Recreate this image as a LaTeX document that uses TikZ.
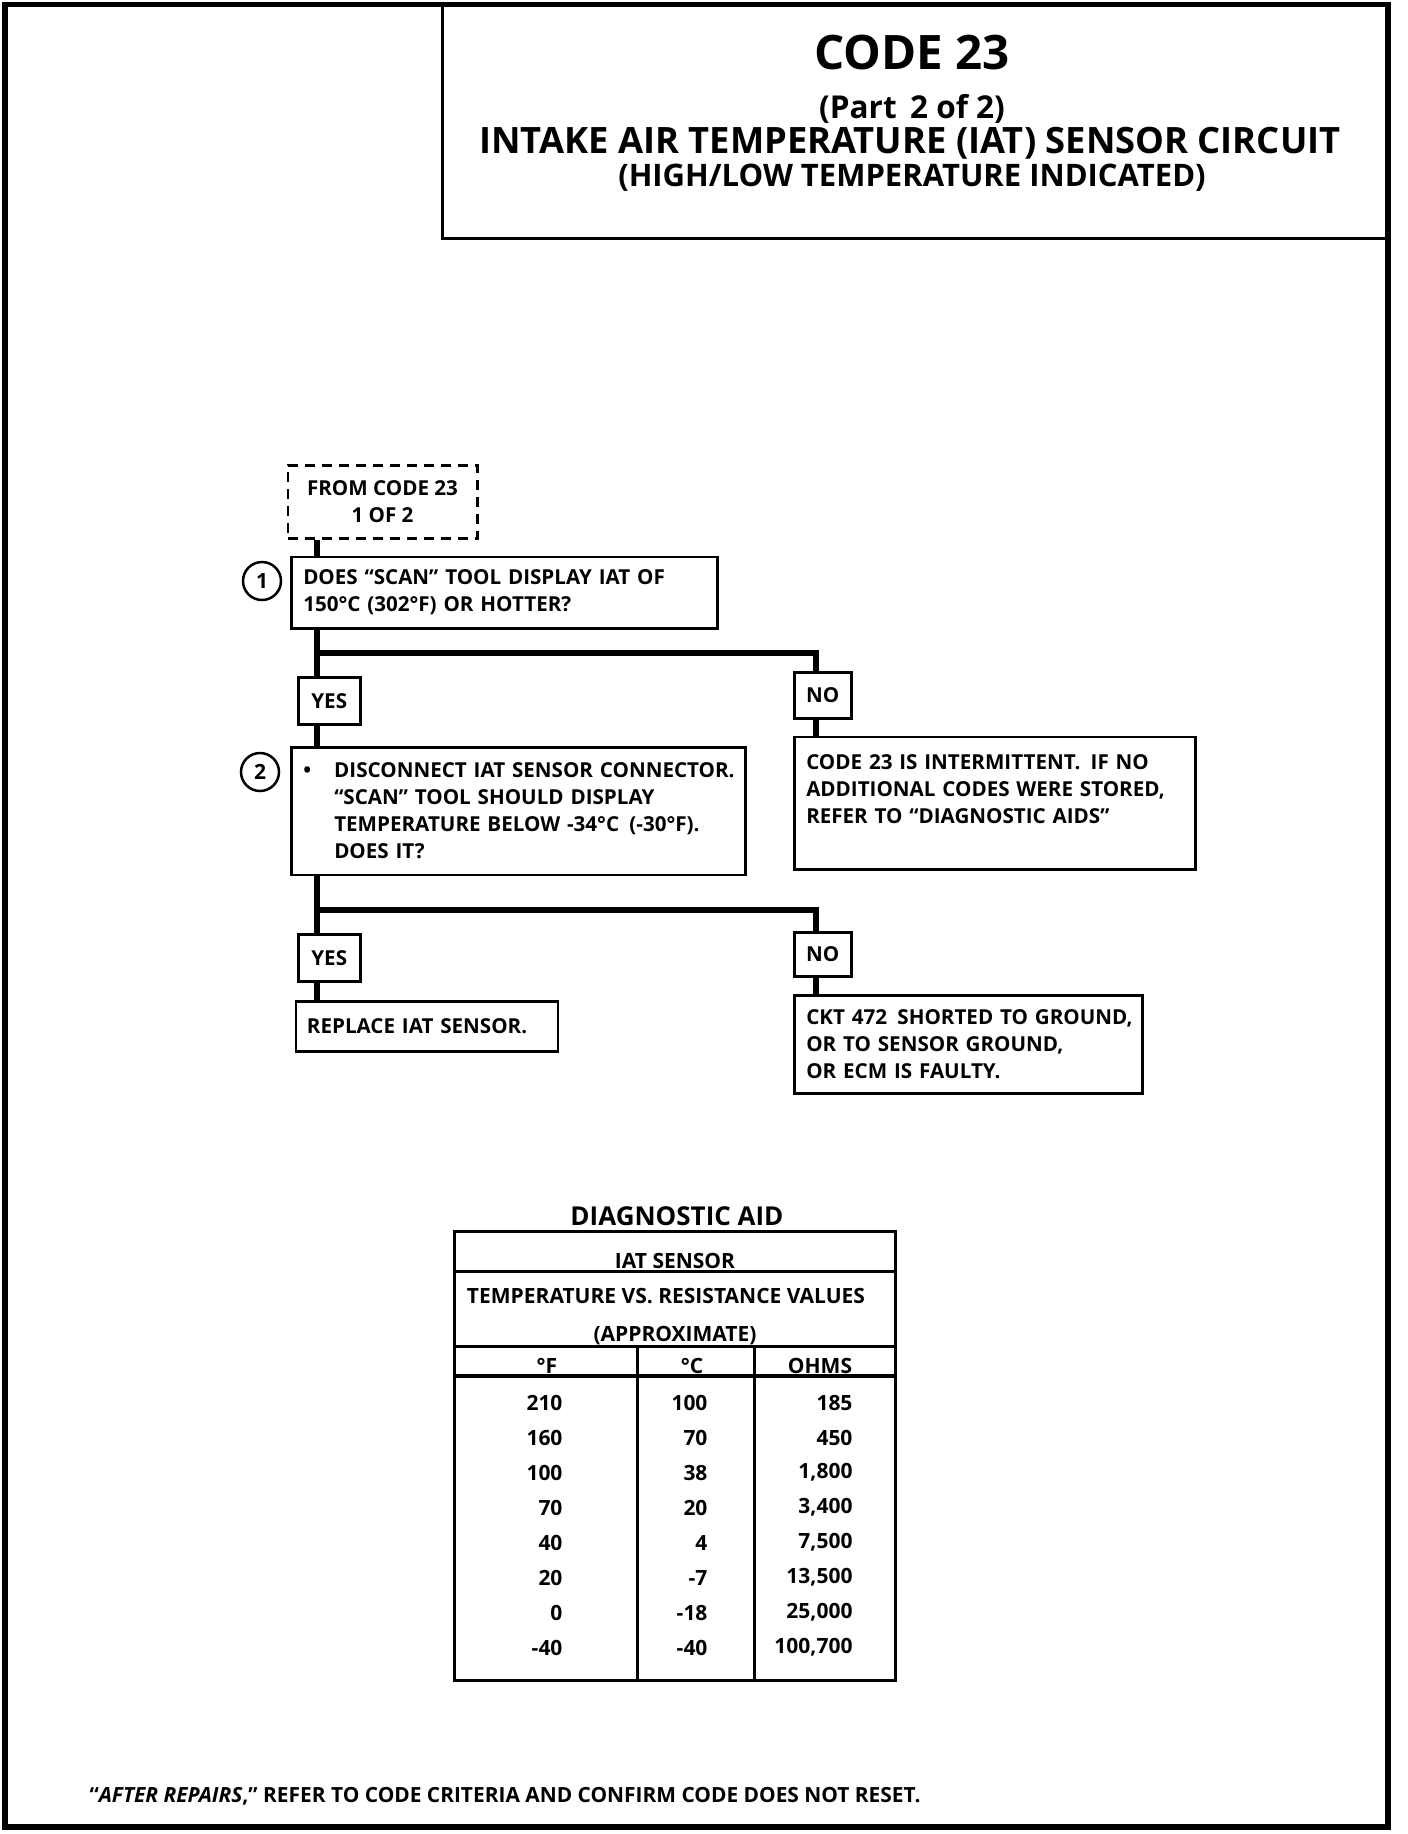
\documentclass[tikz,border=0pt]{standalone}
\usepackage{fontspec}
\setmainfont{Open Sans}
\usepackage{tikz}
\usetikzlibrary{positioning}

\newcommand{\fsz}[2]{\fontsize{#1}{#2}\selectfont}

\begin{document}
\begin{tikzpicture}[x=1pt,y=-1pt,
    box/.style={draw,line width=2.5pt,anchor=north west,inner xsep=12pt,
                align=left,font=\bfseries\fsz{20.6}{27}},
    tag/.style={draw,line width=2.5pt,anchor=north west,inner sep=0pt,
                font=\bfseries\fsz{20.6}{27}},
    dashbox/.style={draw,line width=2.5pt,dash pattern=on 10pt off 7pt,
                anchor=north west,align=center,font=\bfseries\fsz{20.6}{27}},
    num/.style={draw,circle,line width=2.5pt,minimum size=38pt,inner sep=0pt,
                font=\bfseries\fsz{21}{24}},
    flow/.style={line width=6pt,line join=miter},
    head/.style={font=\bfseries\fsz{21}{24},anchor=base},
    cell/.style={font=\bfseries\fsz{21}{24},anchor=east}]
\useasboundingbox (0,0) rectangle (1408,1834);

% frame and title
\draw[line width=5.5pt] (5,4.5) rectangle (1388,1827);
\draw[line width=3pt] (442,4.5) rectangle (1388,238.5);
\node[font=\bfseries\fsz{47.5}{52}] (title) at (912,53) {CODE 23};
\node[font=\bfseries\fsz{31.5}{34}] (part) at (912,109) {(Part\, 2 of 2)};
\node[font=\bfseries\fsz{36.3}{40}] (circuit) at (910,143) {INTAKE AIR TEMPERATURE (IAT) SENSOR CIRCUIT};
\node[font=\bfseries\fsz{31}{34}] (subtitle) at (912,178) {(HIGH/LOW TEMPERATURE INDICATED)};

% flow chart
\coordinate (tx) at (317,0);
\coordinate (nx) at (816,0);
\node[dashbox,minimum width=189.5pt,minimum height=73pt] (from) at (286.5,464) {FROM CODE 23\\1 OF 2};
\node[box,minimum width=426pt,minimum height=71.5pt,text width=402pt] (q1) at (290,555.5)
  {\mbox{DOES ``SCAN'' TOOL DISPLAY IAT OF}\\\mbox{150°C (302°F) OR HOTTER?}};
\node[num] (n1) at (262,581) {1};
\node[tag,minimum width=62pt,minimum height=47pt] (yes1) at (297,676) {YES};
\node[tag,minimum width=57pt,minimum height=46pt] (no1) at (793,671) {NO};
\node[box,minimum width=454pt,minimum height=127.5pt,text width=430pt] (q2) at (290,746)
  {\mbox{\makebox[31pt][l]{\textbullet}DISCONNECT IAT SENSOR CONNECTOR.}\\
   \mbox{\hspace*{31pt}``SCAN'' TOOL SHOULD DISPLAY}\\
   \mbox{\hspace*{31pt}TEMPERATURE BELOW -34°C\, (-30°F).}\\
   \mbox{\hspace*{31pt}DOES IT?}};
\node[num] (n2) at (260,772) {2};
\node[box,minimum width=401pt,minimum height=132.5pt,text width=377pt] (r1) at (793,735.5)
  {\mbox{CODE 23 IS INTERMITTENT.\, IF NO}\\\mbox{ADDITIONAL CODES WERE STORED,}\\
   \mbox{REFER TO ``DIAGNOSTIC AIDS''}\\\mbox{}};
\node[tag,minimum width=62pt,minimum height=47pt] (yes2) at (297,933) {YES};
\node[tag,minimum width=57pt,minimum height=44pt] (no2) at (793,931) {NO};
\node[box,inner xsep=11pt,minimum width=262pt,minimum height=50pt,text width=240pt] (r2) at (294.7,1000)
  {\mbox{REPLACE IAT SENSOR.}};
\node[box,minimum width=348pt,minimum height=98pt,text width=324pt] (r3) at (793,994)
  {\mbox{CKT 472\, SHORTED TO GROUND,}\\\mbox{OR TO SENSOR GROUND,}\\\mbox{OR ECM IS FAULTY.}};

\coordinate (fork1) at (317,652.5);
\coordinate (fork2) at (317,910);
\draw[flow] (from.south -| tx) -- (q1.north -| tx);
\draw[flow] (q1.south -| tx) -- (yes1.north -| tx);
\draw[flow] (fork1) -| (no1.north -| nx);
\draw[flow] (yes1.south -| tx) -- (q2.north -| tx);
\draw[flow] (no1.south -| nx) -- (r1.north -| nx);
\draw[flow] (q2.south -| tx) -- (yes2.north -| tx);
\draw[flow] (fork2) -| (no2.north -| nx);
\draw[flow] (yes2.south -| tx) -- (r2.north -| tx);
\draw[flow] (no2.south -| nx) -- (r3.north -| nx);

% diagnostic aid table
\node[font=\bfseries\fsz{26}{30}] (aid) at (677,1216) {DIAGNOSTIC AID};
\draw[line width=3pt] (454,1231.5) rectangle (895,1680);
\draw[line width=3pt] (454,1271) -- (895,1271);
\draw[line width=3pt] (454,1346) -- (895,1346);
\draw[line width=4pt] (454,1376) -- (895,1376);
\draw[line width=3pt] (637.3,1346) -- (637.3,1680);
\draw[line width=3pt] (754.3,1346) -- (754.3,1680);
\node[head] (sensor) at (675,1268) {IAT SENSOR};
\node[head,anchor=center] (tvr) at (666,1296) {TEMPERATURE VS. RESISTANCE VALUES};
\node[head] (approx) at (675,1341) {(APPROXIMATE)};
\node[head] (hf) at (547,1373) {°F};
\node[head] (hc) at (692,1373) {°C};
\node[head] (ho) at (820,1373) {OHMS};
\foreach \f/\c/\r [count=\i] in {210/100/185, 160/70/450, 100/38/{1,800}, 70/20/{3,400},
    40/4/{7,500}, 20/-7/{13,500}, 0/-18/{25,000}, -40/-40/{100,700}}
{
  \node[cell] (f\i) at (566,1367.7+35*\i) {\f};
  \node[cell] (c\i) at (711,1367.7+35*\i) {\c};
  \node[cell] (o\i) at (856,1367.7+35*\i) {\r};
}

% footer
\node[font=\bfseries\fsz{20.9}{24},anchor=west] (note) at (86,1796)
  {``\textit{AFTER REPAIRS},'' REFER TO CODE CRITERIA AND CONFIRM CODE DOES NOT RESET.};
\end{tikzpicture}
\end{document}
